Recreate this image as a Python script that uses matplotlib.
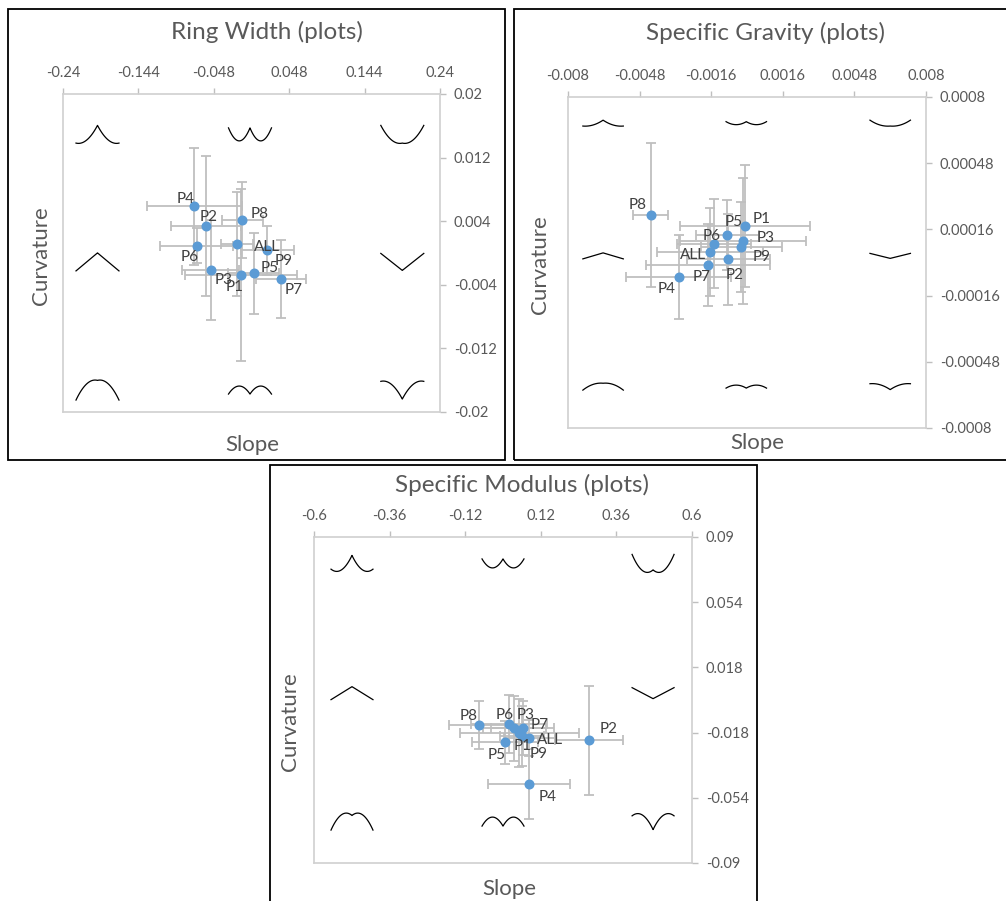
import numpy as np
import matplotlib.pyplot as plt
from matplotlib.patches import Rectangle

plt.rcParams['font.family'] = ['Lato', 'DejaVu Sans']

W, H = 1006, 901

names = ['P1', 'P2', 'P3', 'P4', 'P5', 'P6', 'P7', 'P8', 'P9', 'ALL']

# Ring Width
rw_slope = [-0.0136, -0.0582, -0.0522, -0.0728, 0.0027, -0.0698, 0.0374, -0.0118, 0.0202, -0.0187]
rw_curv = [-0.00279, 0.00343, -0.00211, 0.00585, -0.00254, 0.00089, -0.00326, 0.00415, 0.00034, 0.00114]
rw_slope_err = [0.0717, 0.0446, 0.0357, 0.0603, 0.032, 0.0462, 0.0314, 0.0259, 0.034, 0.02]
rw_curv_err = [0.0108, 0.0088, 0.0063, 0.0073, 0.0051, 0.0022, 0.0049, 0.0048, 0.0031, 0.0065]
rw_xticks = ['-0.24', '-0.144', '-0.048', '0.048', '0.144', '0.24']
rw_yticks = ['-0.02', '-0.012', '-0.004', '0.004', '0.012', '0.02']

# Specific Gravity
sg_slope = [-0.00009, -0.00084, -0.00019, -0.00305, -0.00088, -0.00149, -0.00174, -0.0043, -0.00025, -0.00164]
sg_curv = [0.000178, 0.0000155, 0.000105, -0.0000715, 0.000134, 0.0000909, -0.0000121, 0.000231, 0.000075, 0.000052]
sg_slope_err = [0.0029, 0.00186, 0.00282, 0.00235, 0.00142, 0.00165, 0.00277, 0.00078, 0.0018, 0.00237]
sg_curv_err = [0.000295, 0.000221, 0.000305, 0.000203, 0.00017, 0.000216, 0.0002, 0.000348, 0.000216, 0.000213]
sg_xticks = ['-0.008', '-0.0048', '-0.0016', '0.0016', '0.0048', '0.008']
sg_yticks = ['-0.0008', '-0.00048', '-0.00016', '0.00016', '0.00048', '0.0008']

# Specific Modulus
sm_slope = [0.052, 0.273, 0.035, 0.0825, 0.0063, 0.019, 0.0625, -0.077, 0.060, 0.0835]
sm_curv = [-0.0184, -0.0223, -0.0156, -0.0466, -0.0234, -0.01325, -0.0155, -0.0136, -0.0199, -0.0208]
sm_slope_err = [0.19, 0.108, 0.1, 0.131, 0.105, 0.12, 0.1, 0.095, 0.07, 0.08]
sm_curv_err = [0.0188, 0.0302, 0.018, 0.0193, 0.012, 0.016, 0.015, 0.0132, 0.0166, 0.01]
sm_xticks = ['-0.6', '-0.36', '-0.12', '0.12', '0.36', '0.6']
sm_yticks = ['-0.09', '-0.054', '-0.018', '0.018', '0.054', '0.09']

# label offsets in pixels (dx right, dy down)
rw_offsets = {'P1': (-6, 12), 'P2': (3, -9), 'P3': (13, 10), 'P4': (-9, -7), 'P5': (16, -5),
              'P6': (-7, 11), 'P7': (13, 11), 'P8': (17, -6), 'P9': (16, 11), 'ALL': (30, 3)}
sg_offsets = {'P1': (17, -7), 'P2': (6, 16), 'P3': (23, -3), 'P4': (-12, 12), 'P5': (6, -13),
              'P6': (-2, -8), 'P7': (-6, 12), 'P8': (-13, -10), 'P9': (20, 10), 'ALL': (-17, 3)}
sm_offsets = {'P1': (3, 13), 'P2': (20, -11), 'P3': (12, -13), 'P4': (19, 13), 'P5': (-8, 13),
              'P6': (-4, -9), 'P7': (17, -3), 'P8': (-10, -9), 'P9': (17, 18), 'ALL': (21, 2)}

fig = plt.figure(figsize=(W / 100, H / 100), dpi=100)


def fig_box(x0, y0, x1, y1):
    return [x0 / W, 1 - y1 / H, (x1 - x0) / W, (y1 - y0) / H]


# panel frames
for x0, y0, x1, y1 in [(8, 9, 505, 460), (514, 9, 1012, 460), (270, 465, 757, 905)]:
    fig.patches.append(Rectangle((x0 / W, 1 - y1 / H), (x1 - x0) / W, (y1 - y0) / H,
                                 transform=fig.transFigure, fill=False, ec='black', lw=1.3))

grey = '#BFBFBF'
txt = '#595959'


def glyph(ax, cx, cy, w, h, s, c):
    # schematic profile: slope term on |x| plus curvature term
    x = np.linspace(-1, 1, 81)
    u = np.abs(x)
    y = s * u + c * (u - 0.5) ** 2
    y = (y - (y.max() + y.min()) / 2) / (y.max() - y.min())
    ax.plot(cx + x * w / 2, cy + y * h, color='black', lw=0.9, transform=ax.transAxes, clip_on=False)


def panel(box, xs, ys, xe, ye, xt, yt, offs, title, title_xy, slope_xy, curv_xy,
          gcols, grows, gw, gh, k):
    ax = fig.add_axes(fig_box(*box))
    xv = [float(t) for t in xt]
    yv = [float(t) for t in yt]
    ax.set_xlim(xv[0], xv[-1])
    ax.set_ylim(yv[0], yv[-1])
    ax.set_xticks(xv)
    ax.set_xticklabels(xt)
    ax.set_yticks(yv)
    ax.set_yticklabels(yt)
    ax.xaxis.tick_top()
    ax.yaxis.tick_right()
    ax.tick_params(colors=grey, labelcolor=txt, labelsize=10.5, length=4, width=1, pad=6)
    for sp in ax.spines.values():
        sp.set_color('#D0D0D0')
        sp.set_linewidth(1.2)

    ax.errorbar(xs, ys, xerr=xe, yerr=ye, fmt='none', ecolor=grey, elinewidth=1.3,
                capsize=3.3, capthick=1.3, zorder=2)
    ax.plot(xs, ys, 'o', color='#5B9BD5', ms=6.2, zorder=3)
    for n, x, y in zip(names, xs, ys):
        dx, dy = offs[n]
        ax.annotate(n, (x, y), xytext=(dx, -dy), textcoords='offset pixels',
                    ha='center', va='center', fontsize=11, color='#404040', zorder=4)

    # 3x3 grid of shape glyphs (centre cell empty)
    for i, cy in enumerate(grows):
        for j, cx in enumerate(gcols):
            if i == 1 and j == 1:
                continue
            s = [-1, 0, 1][j]
            c = [k, 0, -k][i]
            glyph(ax, cx, cy, gw, gh[i][j] / (box[3] - box[1]), s, c)

    fig.text(title_xy[0] / W, 1 - title_xy[1] / H, title, ha='center', va='center',
             fontsize=17.5, color=txt)
    fig.text(slope_xy[0] / W, 1 - slope_xy[1] / H, 'Slope', ha='center', va='center',
             fontsize=16, color=txt)
    fig.text(curv_xy[0] / W, 1 - curv_xy[1] / H, 'Curvature', ha='center', va='center',
             fontsize=16, color=txt, rotation=90)
    return ax


panel((63, 94, 440, 412), rw_slope, rw_curv, rw_slope_err, rw_curv_err, rw_xticks, rw_yticks,
      rw_offsets, 'Ring Width (plots)', (267, 32), (252, 445), (41, 256),
      [0.0915, 0.496, 0.90], [0.873, 0.472, 0.069], 0.114,
      [[18, 13, 18], [18, 0, 17], [20, 8, 18]], 1.3)

panel((568, 97, 926, 428), sg_slope, sg_curv, sg_slope_err, sg_curv_err, sg_xticks, sg_yticks,
      sg_offsets, 'Specific Gravity (plots)', (765, 33), (757, 443), (540, 265),
      [0.098, 0.498, 0.90], [0.921, 0.520, 0.125], 0.113,
      [[6, 3, 6], [6, 0, 5], [7, 3, 6]], 1.3)

panel((314, 537, 692, 863), sm_slope, sm_curv, sm_slope_err, sm_curv_err, sm_xticks, sm_yticks,
      sm_offsets, 'Specific Modulus (plots)', (522, 485), (509, 889), (290, 722),
      [0.1005, 0.5, 0.897], [0.919, 0.521, 0.127], 0.111,
      [[16, 9, 18], [13, 0, 11], [17, 9, 16]], 2.2)

plt.savefig('out.png', dpi=100)
